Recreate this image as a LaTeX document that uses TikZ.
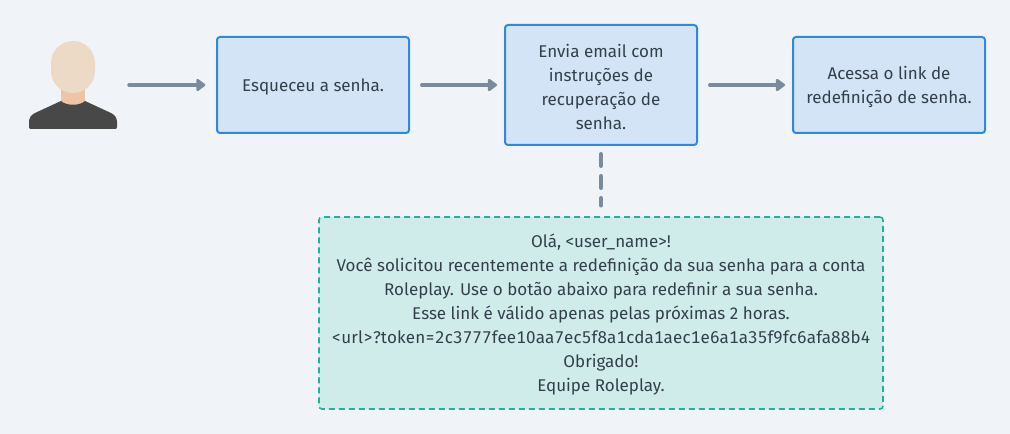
\documentclass[tikz,border=0pt]{standalone}
\usepackage{fontspec}
\setmainfont{Fira Sans}
\usetikzlibrary{positioning}
\usetikzlibrary{arrows.meta}
\definecolor{bgcolor}{HTML}{F0F4F8}
\definecolor{boxfill}{HTML}{D2E4F6}
\definecolor{boxline}{HTML}{2E8BDC}
\definecolor{mailfill}{HTML}{CFECEA}
\definecolor{mailline}{HTML}{1FB39B}
\definecolor{flowline}{HTML}{7B8B9C}
\definecolor{textcolor}{HTML}{33404B}
\definecolor{headcolor}{HTML}{ECD9C6}
\definecolor{neckcolor}{HTML}{EDC4A4}
\definecolor{bodycolor}{HTML}{484848}
\newcommand{\topdrop}{\rule{0pt}{13pt}}
\tikzset{
    every node/.style={
    text=textcolor,
    font=\fontsize{12.75}{18}\selectfont,
    align=center},
    stepbox/.style={
    draw=boxline,
    fill=boxfill,
    line width=1.5pt,
    rounded corners=2.25pt,
    minimum width=144pt,
    minimum height=72pt,
    inner sep=0pt},
    mailbox/.style={
    draw=mailline,
    fill=mailfill,
    line width=1.2pt,
    dash pattern=on 4.5pt off 3pt,
    rounded corners=2.25pt,
    minimum width=423pt,
    minimum height=144pt,
    inner sep=0pt},
    flow/.style={
    draw=flowline,
    line width=3pt,
    line cap=round,
    shorten <=9pt,
    shorten >=5.25pt,
    -{Triangle[length=7.5pt,width=10.5pt,round=false]}},
    mailflow/.style={
    draw=flowline,
    line width=3pt,
    line cap=round,
    dash pattern=on 9pt off 7.5pt,
    shorten <=6pt,
    shorten >=8pt}
}

\begin{document}
\begin{tikzpicture}[x=0.75pt,y=-0.75pt]
        % Background
        \fill[bgcolor] (0,0) rectangle (1010,434);
        \useasboundingbox (0,0) rectangle (1010,434);

        % User figure
        \node[minimum width=66pt,minimum height=66pt,inner sep=0pt] (user) at (73,85) {};
        \fill[neckcolor] (61,85) rectangle (85,106);
        \fill[bodycolor] (61,101) .. controls (66,106) and (80,106) .. (85,101)
            -- (111,113) .. controls (115,115) and (117,118) .. (117,122)
            -- (117,127) .. controls (117,128.5) and (116,129) .. (115,129)
            -- (31,129) .. controls (30,129) and (29,128.5) .. (29,127)
            -- (29,122) .. controls (29,118) and (31,115) .. (35,113) -- cycle;
        \fill[headcolor, rounded corners=16.5pt] (51,41) rectangle (95,93);

        % Flow boxes
        \node[stepbox] (forgot) at (313,85) {\topdrop Esqueceu a senha.};
        \node[stepbox,minimum height=90pt] (email) at (601,85) {\topdrop Envia email com\\instruções de\\recuperação de\\senha.};
        \node[stepbox] (link) at (889,85) {\topdrop Acessa o link de\\redefinição de senha.};

        % Email contents
        \node[mailbox] (message) at (601,313) {\topdrop Olá, <user\_name>!\\
            Você solicitou recentemente a redefinição da sua senha para a conta\\
            Roleplay. Use o botão abaixo para redefinir a sua senha.\\
            Esse link é válido apenas pelas próximas 2 horas.\\
            \addfontfeature{Numbers=Monospaced,LetterSpace=1}<url>?token=2c3777fee10aa7ec5f8a1cda1aec1e6a1a35f9fc6afa88b4\\
            Obrigado!\\
            Equipe Roleplay.};

        % Arrows
        \draw[flow,shorten >=8pt] (user) -- (forgot);
        \draw[flow] (forgot) -- (email);
        \draw[flow] (email) -- (link);
        \draw[mailflow] (email) -- (message);
    \end{tikzpicture}
\end{document}
